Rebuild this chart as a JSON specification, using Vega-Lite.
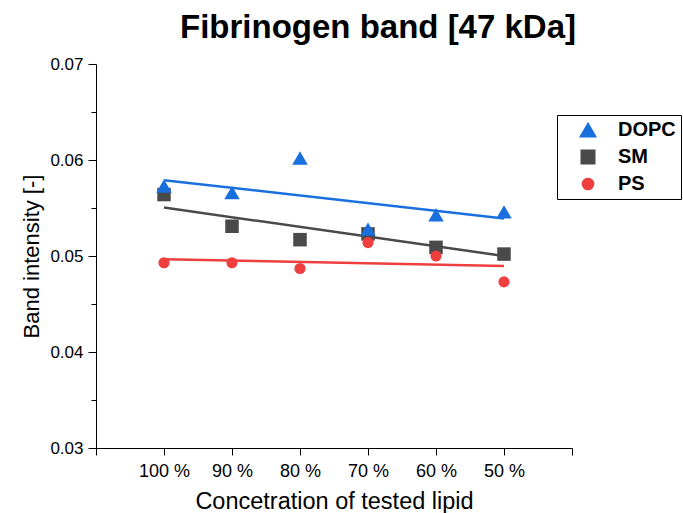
{
  "$schema": "https://vega.github.io/schema/vega-lite/v6.json",
  "width": 476,
  "height": 384,
  "autosize": {"type": "none"},
  "padding": {"left": 96, "top": 64, "right": 111, "bottom": 65},
  "background": "white",
  "config": {
    "view": {"stroke": null},
    "font": "Liberation Sans"
  },
  "title": {
    "text": "Fibrinogen band [47 kDa]",
    "font": "Liberation Sans",
    "fontSize": 33,
    "fontWeight": "bold",
    "color": "black",
    "anchor": "middle",
    "dx": 44,
    "offset": 10
  },
  "datasets": {
    "points": [
      {"lipid": "SM", "conc": 100, "value": 0.0564},
      {"lipid": "SM", "conc": 90, "value": 0.0531},
      {"lipid": "SM", "conc": 80, "value": 0.0517},
      {"lipid": "SM", "conc": 70, "value": 0.0523},
      {"lipid": "SM", "conc": 60, "value": 0.0509},
      {"lipid": "SM", "conc": 50, "value": 0.0502},
      {"lipid": "PS", "conc": 100, "value": 0.0493},
      {"lipid": "PS", "conc": 90, "value": 0.0493},
      {"lipid": "PS", "conc": 80, "value": 0.0487},
      {"lipid": "PS", "conc": 70, "value": 0.0514},
      {"lipid": "PS", "conc": 60, "value": 0.0500},
      {"lipid": "PS", "conc": 50, "value": 0.0473},
      {"lipid": "DOPC", "conc": 100, "value": 0.0573},
      {"lipid": "DOPC", "conc": 90, "value": 0.0566},
      {"lipid": "DOPC", "conc": 80, "value": 0.0602},
      {"lipid": "DOPC", "conc": 70, "value": 0.0528},
      {"lipid": "DOPC", "conc": 60, "value": 0.0543},
      {"lipid": "DOPC", "conc": 50, "value": 0.0546}
    ],
    "fits": [
      {"lipid": "DOPC", "conc": 100, "value": 0.05790},
      {"lipid": "DOPC", "conc": 50, "value": 0.05390},
      {"lipid": "SM", "conc": 100, "value": 0.05505},
      {"lipid": "SM", "conc": 50, "value": 0.05000},
      {"lipid": "PS", "conc": 100, "value": 0.04966},
      {"lipid": "PS", "conc": 50, "value": 0.04896}
    ]
  },
  "layer": [
    {
      "data": {"name": "fits"},
      "mark": {"type": "line", "strokeWidth": 2.5},
      "encoding": {
        "x": {"field": "conc", "type": "quantitative"},
        "y": {"field": "value", "type": "quantitative"},
        "color": {"field": "lipid", "type": "nominal"}
      }
    },
    {
      "data": {"name": "points"},
      "mark": {"type": "point", "filled": true, "opacity": 1},
      "encoding": {
        "x": {
          "field": "conc",
          "type": "quantitative",
          "scale": {"domain": [110, 40], "nice": false, "zero": false},
          "axis": {
            "title": "Concetration of tested lipid",
            "titleFont": "Liberation Sans",
            "titleFontSize": 23.5,
            "titleFontWeight": "normal",
            "titleColor": "black",
            "titlePadding": 9,
            "values": [110, 105, 100, 95, 90, 85, 80, 75, 70, 65, 60, 55, 50, 45, 40],
            "labelExpr": "(datum.value % 10 == 0 && datum.value <= 100 && datum.value >= 50) ? datum.value + ' %' : ''",
            "labelFont": "Liberation Sans",
            "labelFontSize": 18,
            "labelColor": "black",
            "labelPadding": 7,
            "tickSize": {"condition": {"test": "datum.value % 10 == 0", "value": 7}, "value": 4},
            "tickColor": "black",
            "domainColor": "black",
            "grid": false,
            "labelFlush": false,
            "labelOverlap": false
          }
        },
        "y": {
          "field": "value",
          "type": "quantitative",
          "scale": {"domain": [0.03, 0.07], "nice": false, "zero": false},
          "axis": {
            "title": "Band intensity [-]",
            "titleFont": "Liberation Sans",
            "titleFontSize": 22,
            "titleFontWeight": "normal",
            "titleColor": "black",
            "titlePadding": 6,
            "values": [0.03, 0.035, 0.04, 0.045, 0.05, 0.055, 0.06, 0.065, 0.07],
            "labelExpr": "(round(datum.value * 200) % 2 == 0) ? format(datum.value, '.2f') : ''",
            "labelFont": "Liberation Sans",
            "labelFontSize": 17,
            "labelColor": "black",
            "labelPadding": 5,
            "tickSize": {"condition": {"test": "round(datum.value * 200) % 2 == 0", "value": 8}, "value": 5},
            "tickColor": "black",
            "domainColor": "black",
            "grid": false,
            "labelFlush": false,
            "labelOverlap": false
          }
        },
        "color": {
          "field": "lipid",
          "type": "nominal",
          "scale": {"domain": ["DOPC", "SM", "PS"], "range": ["#1a6fdf", "#4a4a4a", "#ee3e3e"]},
          "legend": {
            "title": null,
            "orient": "none",
            "legendX": 461,
            "legendY": 51,
            "strokeColor": "black",
            "padding": 5,
            "labelFont": "Liberation Sans",
            "labelFontSize": 20,
            "labelFontWeight": "bold",
            "labelColor": "black",
            "labelOffset": 20,
            "rowPadding": 7,
            "symbolSize": 140,
            "symbolOffset": 16
          }
        },
        "shape": {
          "field": "lipid",
          "type": "nominal",
          "scale": {"domain": ["DOPC", "SM", "PS"], "range": ["triangle-up", "square", "circle"]}
        },
        "size": {
          "field": "lipid",
          "type": "nominal",
          "scale": {"domain": ["DOPC", "SM", "PS"], "range": [240, 125, 135]},
          "legend": null
        }
      }
    }
  ]
}
